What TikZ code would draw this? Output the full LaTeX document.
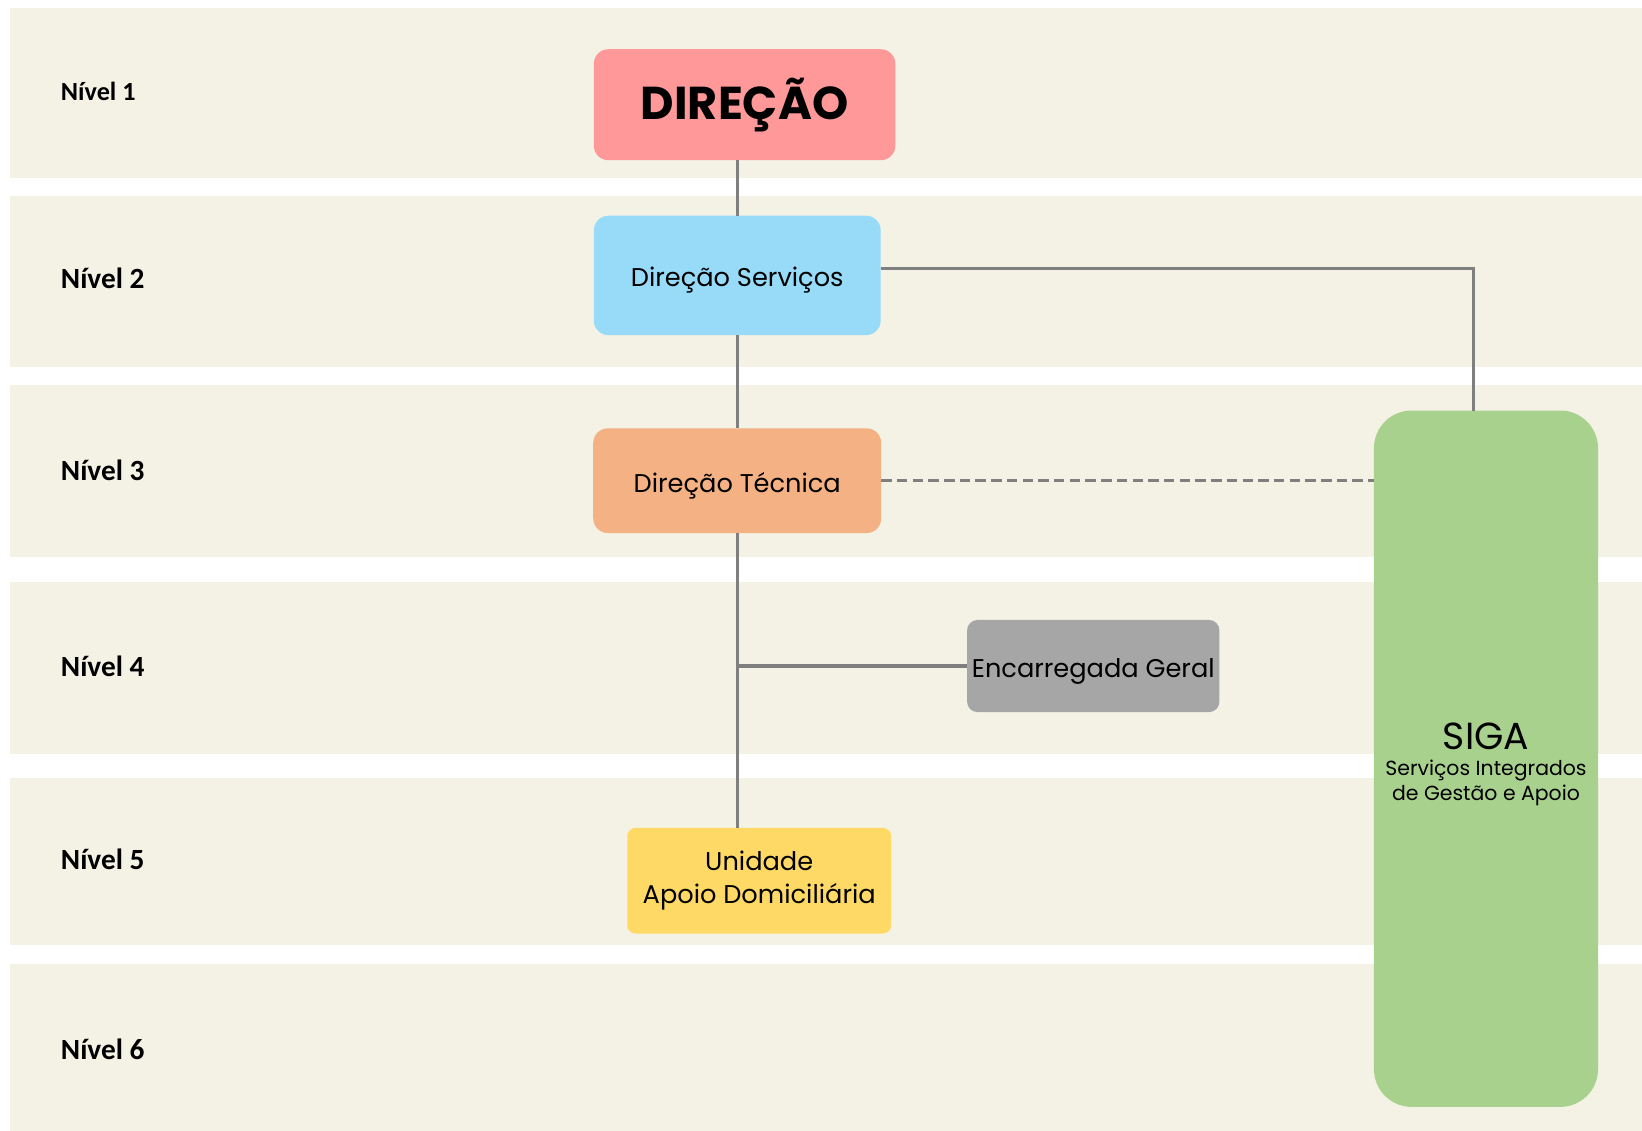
\documentclass[tikz,border=0pt]{standalone}
\usepackage{fontspec}
\setmainfont{Poppins}
\newfontfamily\lvlfont{Carlito}
\usetikzlibrary{positioning}

\definecolor{bandcol}{HTML}{F4F2E4}
\definecolor{linecol}{HTML}{7F7F7F}
\definecolor{dircol}{HTML}{FF9999}
\definecolor{servcol}{HTML}{97DBF9}
\definecolor{teccol}{HTML}{F4B183}
\definecolor{enccol}{HTML}{A6A6A6}
\definecolor{unicol}{HTML}{FFD966}
\definecolor{sigacol}{HTML}{A9D18E}

\begin{document}
\begin{tikzpicture}[x=1pt,y=-1pt,
                    box/.style={rounded corners=14pt, inner sep=0pt, outer sep=0pt,
                                align=center, font=\fontsize{24.5}{31}\selectfont},
                    onebox/.style={box, text height=25pt, text depth=3pt},
                    level/.style={anchor=west, inner sep=0pt,
                                  font=\lvlfont\bfseries\fontsize{28}{32}\selectfont},
                    conn/.style={draw=linecol, line width=3pt}]

  \useasboundingbox (0,0) rectangle (1568,1080);

  % bands
  \fill[bandcol] (10,8)   rectangle (1568,170);
  \fill[bandcol] (10,187) rectangle (1568,350);
  \fill[bandcol] (10,368) rectangle (1568,532);
  \fill[bandcol] (10,556) rectangle (1568,720);
  \fill[bandcol] (10,743) rectangle (1568,902);
  \fill[bandcol] (10,921) rectangle (1568,1080);

  \node[level, font=\lvlfont\bfseries\fontsize{25}{30}\selectfont] (L1) at (58,87) {Nível 1};
  \node[level] (L2) at (58,266)  {Nível 2};
  \node[level] (L3) at (58,449)  {Nível 3};
  \node[level] (L4) at (58,636)  {Nível 4};
  \node[level] (L5) at (58,821)  {Nível 5};
  \node[level] (L6) at (58,1002) {Nível 6};

  \node[box, fill=dircol, minimum width=288pt, minimum height=106pt,
        font=\bfseries\fontsize{44}{52}\selectfont] (D) at (711,100) {DIREÇÃO};
  \node[onebox, fill=servcol, minimum width=274pt, minimum height=114pt] (S) at (704,263) {Direção Serviços};
  \node[onebox, fill=teccol, minimum width=275pt, minimum height=100pt] (T) at (704,459) {Direção Técnica};
  \node[onebox, fill=enccol, minimum width=241pt, minimum height=88pt, rounded corners=10pt] (E) at (1044,636) {Encarregada Geral};
  \node[box, fill=unicol, minimum width=252pt, minimum height=101pt, rounded corners=8pt,
        font=\fontsize{24.5}{32}\selectfont] (U) at (725,841) {Unidade\\Apoio Domiciliária};
  \node[box, fill=sigacol, minimum width=214pt, minimum height=665pt, rounded corners=36pt] (G) at (1419,724.5) {};
  \node[inner sep=0pt, align=center, font=\fontsize{19.5}{24}\selectfont] (Gt) at (1419,730)
        {{\fontsize{36}{40}\selectfont SIGA}\\Serviços Integrados\\de Gestão e Apoio};

  % connectors
  \path[conn] ([xshift=-7pt]D.south) -- ([xshift=-7pt]D.south |- S.north);
  \path[conn] (S.south) -- (T.north);
  \path[conn] (T.south) -- (T.south |- U.north);
  \path[conn] (T.south |- E.west) -- (E.west);
  \path[conn] ([yshift=7pt]S.east) -| ([xshift=-12pt]G.north);
  \path[conn, dash pattern=on 10pt off 5pt] (T.east) -- (T.east -| G.west);

\end{tikzpicture}
\end{document}
